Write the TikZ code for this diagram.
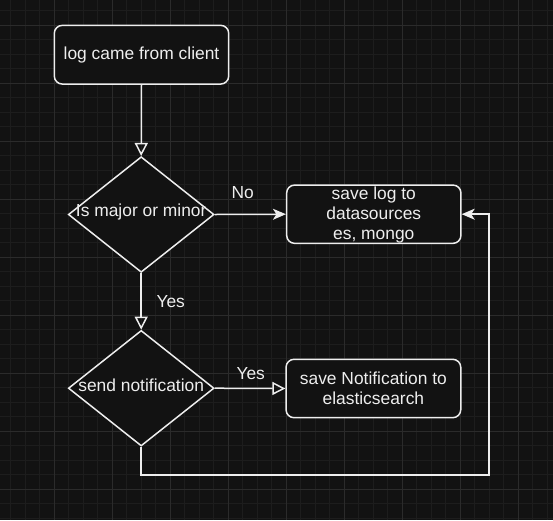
\documentclass[tikz,border=0pt]{standalone}
\usepackage{fontspec}
\setmainfont{Liberation Sans}
\usetikzlibrary{shapes.geometric,arrows.meta}
\definecolor{bgc}{HTML}{121212}
\definecolor{minorc}{HTML}{1D1D1D}
\definecolor{majorc}{HTML}{2B2B2B}
\definecolor{fgc}{HTML}{EEEEEE}
\tikzset{
  minorline/.style={draw=minorc, line width=1pt},
  majorline/.style={draw=majorc, line width=1pt},
  boxstyle/.style={draw=fgc, fill=bgc, line width=1.5pt, rounded corners=8pt, inner sep=0pt, text=fgc, align=center, font=\fontsize{17.4}{20}\selectfont},
  diastyle/.style={draw=fgc, fill=bgc, line width=1.5pt, diamond, inner sep=0pt, minimum width=145.7pt, minimum height=115.6pt},
  txt/.style={text=fgc, inner sep=0pt, font=\fontsize{17.4}{20}\selectfont},
  conn/.style={draw=fgc, line width=1.5pt},
  openhead/.style={-{Triangle[open, length=13pt, width=13pt, line width=1.5pt]}},
  classichead/.style={-{Stealth[length=13pt, width=11pt, inset=3.5pt]}}
}
\begin{document}
\begin{tikzpicture}[x=1pt, y=-1pt]
\fill[bgc] (0,0) rectangle (553,520);
\useasboundingbox (0,0) rectangle (553,520);
% grid
\foreach \i in {0,...,37} {
  \draw[minorline] ({10.8+14.5*\i},0) -- ({10.8+14.5*\i},520);
  \draw[minorline] (0,{10.8+14.5*\i}) -- (553,{10.8+14.5*\i});
}
\foreach \i in {-1,...,9} {
  \draw[majorline] ({54.3+58*\i},0) -- ({54.3+58*\i},520);
  \draw[majorline] (0,{25.3+58*\i}) -- (553,{25.3+58*\i});
}
% nodes
\node[boxstyle, minimum width=174.4pt, minimum height=58.7pt] (start) at (141.5,54.7) {log came from client};
\node[diastyle] (d1) at (141.2,214.5) {};
\node[txt] (d1t) at (141.2,211.7) {Is major or minor};
\node[boxstyle, minimum width=174.3pt, minimum height=58.3pt] (save) at (373.8,214.2) {};
\node[txt, align=center] (savet) at (373.8,215) {save log to\\datasources\\es, mongo};
\node[diastyle] (d2) at (141.2,388.2) {};
\node[txt] (d2t) at (141.2,385.3) {send notification};
\node[boxstyle, minimum width=174.7pt, minimum height=58.4pt] (notif) at (373.4,388.5) {save Notification to\\elasticsearch};
% labels
\node[txt] (lno) at (242.7,192.3) {No};
\node[txt] (lyes1) at (170.7,301.7) {Yes};
\node[txt] (lyes2) at (250.7,373.3) {Yes};
% connectors
\coordinate (loopc) at (489,475);
\draw[conn, openhead] (start.south) -- (d1.north);
\draw[conn, classichead] (d1.east) -- (save.west);
\draw[conn, openhead] (d1.south) -- (d2.north);
\draw[conn, openhead] (d2.east) -- (notif.west);
\draw[conn, classichead] (d2.south) |- (loopc) |- (save.east);
\end{tikzpicture}
\end{document}
